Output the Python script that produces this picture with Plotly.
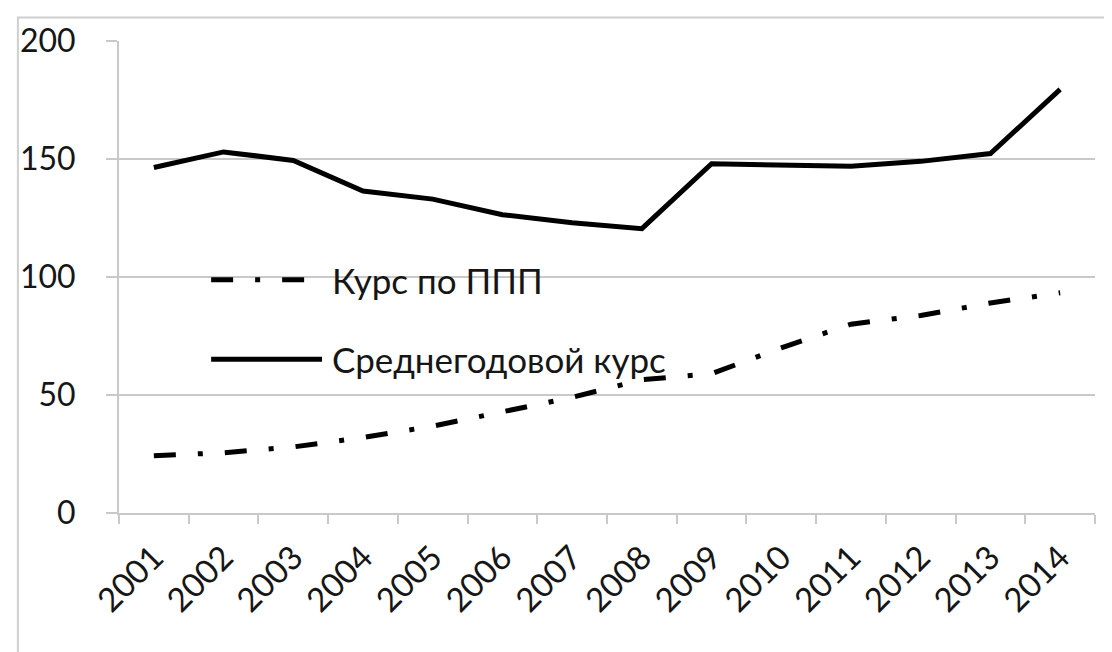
import plotly.graph_objects as go

years = ["2001", "2002", "2003", "2004", "2005", "2006", "2007",
         "2008", "2009", "2010", "2011", "2012", "2013", "2014"]
ppp_rate = [24.3, 25.5, 28.0, 32.0, 36.8, 43.0, 49.0, 56.5, 59.0, 70.0, 80.0, 83.7, 89.0, 93.3]
avg_rate = [146.4, 153.0, 149.4, 136.4, 133.0, 126.4, 123.0, 120.5, 148.0, 147.7, 146.9, 149.0, 152.3, 179.5]
series_names = ["Курс по ППП", "Среднегодовой курс"]
y_ticks = [0, 50, 100, 150, 200]

FONT = "Lato, 'Open Sans', sans-serif"
TXT = "#161616"
GRID = "#c9c9c9"
DASHDOT = "22px,22px,5px,22px"

fig = go.Figure()
fig.add_trace(go.Scatter(x=years, y=avg_rate, mode="lines", name=series_names[1],
                         line=dict(color="#000000", width=5), showlegend=False))
fig.add_trace(go.Scatter(x=years, y=ppp_rate, mode="lines", name=series_names[0],
                         line=dict(color="#000000", width=5, dash=DASHDOT),
                         showlegend=False))

# manual legend (long line samples as in the original)
legend_items = [
    (series_names[0], 0.494, DASHDOT, 0.0944, 0.19),
    (series_names[1], 0.326, "solid", 0.0944, 0.208),
]
for name, yp, dash, x0, x1 in legend_items:
    fig.add_shape(type="line", xref="paper", yref="paper", x0=x0, x1=x1, y0=yp, y1=yp,
                  line=dict(color="#000000", width=5, dash=dash))
    fig.add_annotation(xref="paper", yref="paper", x=0.216, y=yp, text=name,
                       showarrow=False, xanchor="left", yanchor="middle",
                       font=dict(family=FONT, size=35, color=TXT))

# outer chart border
fig.add_shape(type="rect", xref="paper", yref="paper", x0=-0.1036, x1=1.2, y0=-0.5, y1=1.050,
              line=dict(color="#cfcfcf", width=2), fillcolor="rgba(0,0,0,0)", layer="below")

# the page body has an 8px default margin, so the figure is 8px smaller
fig.update_layout(
    width=1104, height=644,
    margin=dict(l=102, r=17, t=27, b=139),
    paper_bgcolor="white", plot_bgcolor="white",
    font=dict(family=FONT, size=32, color=TXT),
    showlegend=False,
)
fig.update_xaxes(
    type="category", range=[-0.5, 13.5], tickson="boundaries",
    ticks="outside", ticklen=9, tickwidth=2, tickcolor=GRID,
    showline=True, linecolor=GRID, linewidth=2,
    showgrid=False, tickangle=-45, ticklabelstandoff=10,
    tickfont=dict(family=FONT, size=33, color=TXT),
)
fig.update_yaxes(
    range=[0, 200], tickvals=y_ticks, ticks="outside", ticklen=11, tickwidth=2,
    tickcolor=GRID, showline=True, linecolor=GRID, linewidth=2,
    showgrid=True, gridcolor=GRID, gridwidth=2, zeroline=False,
    ticklabelstandoff=24,
    tickfont=dict(family=FONT, size=32, color=TXT),
)

fig.write_html("out.html")
